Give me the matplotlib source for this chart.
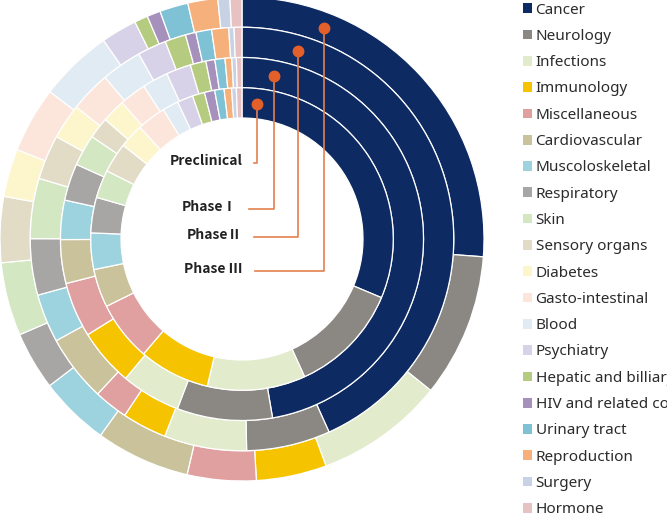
import numpy as np
import matplotlib
matplotlib.use('Agg')
import matplotlib.pyplot as plt
from matplotlib.patches import Patch

# Kategorien (im Uhrzeigersinn ab 12 Uhr)
categories = ['Cancer', 'Neurology', 'Infections', 'Immunology', 'Miscellaneous',
              'Cardiovascular', 'Muscoloskeletal', 'Respiratory', 'Skin',
              'Sensory organs', 'Diabetes', 'Gasto-intestinal', 'Blood',
              'Psychiatry', 'Hepatic and billiary', 'HIV and related conditions',
              'Urinary tract', 'Reproduction', 'Surgery', 'Hormone']

# Anteile in % je Phase
preclinical = [31.4, 11.9, 10.5, 7.6, 6.4, 4.1, 3.9, 3.8, 3.0, 3.2,
               2.6, 3.1, 1.7, 1.7, 1.3, 1.1, 1.0, 0.8, 0.5, 0.6]
phase1 = [47.4, 8.5, 5.3, 5.1, 4.9, 3.9, 3.5, 3.3, 2.8, 1.9,
          2.1, 2.4, 2.3, 2.2, 1.4, 0.8, 0.9, 0.6, 0.4, 0.5]
phase2 = [43.3, 6.4, 6.3, 3.4, 2.6, 5.1, 3.7, 4.3, 4.6, 3.4,
          2.7, 3.1, 3.1, 2.2, 1.6, 0.8, 1.2, 1.3, 0.4, 0.6]
phase3 = [26.2, 9.6, 8.6, 4.7, 4.6, 6.3, 4.7, 3.9, 4.9, 4.4,
          3.2, 4.4, 4.9, 2.4, 0.9, 0.9, 1.9, 2.0, 0.8, 0.8]

phase_labels = ['Preclinical', 'PhaseⅠ', 'PhaseⅡ', 'Phase Ⅲ']

colors = ['#0d2a62', '#8b8884', '#e2ebcc', '#f6c300', '#e0a0a0',
          '#c9c29b', '#9dd2df', '#a8a6a5', '#d3e7c3', '#e2dcc7',
          '#fdf6cd', '#fce6db', '#e1ebf3', '#d7d2e7', '#b5cb7f',
          '#a591bc', '#7fc1d5', '#f5b07c', '#c7d3e5', '#e8c2c2']

fig = plt.figure(figsize=(6.67, 5.29), dpi=100)
ax = fig.add_axes([0, 48 / 529, 484 / 667, 484 / 529])

# Ringe: aussen Phase III, innen Preclinical
width = 0.125
rings = [(phase3, 1.0), (phase2, 0.875), (phase1, 0.75), (preclinical, 0.625)]
for vals, r in rings:
    ax.pie(vals, radius=r, colors=colors, startangle=90, counterclock=False,
           wedgeprops=dict(width=width, edgecolor='white', linewidth=0.9))
ax.set_xlim(-1, 1)
ax.set_ylim(-1, 1)

# Beschriftung der Ringe mit Punkt + Linie
ring_mid = [0.5625, 0.6875, 0.8125, 0.9375]
dot_angle = [6.4, 11.0, 16.6, 21.3]
label_y = [0.314, 0.124, 0.008, -0.132]
line_end = [0.05, 0.029, 0.05, 0.054]
text_x = [0.004, -0.021, 0.0, 0.004]
for i in range(4):
    a = np.radians(dot_angle[i])
    px = ring_mid[i] * np.sin(a)
    py = ring_mid[i] * np.cos(a)
    ax.plot([px, px, line_end[i]], [py, label_y[i], label_y[i]],
            color='#e5804f', lw=1.2, zorder=5)
    ax.plot(px, py, 'o', color='#e4602a', markersize=7.5, zorder=6)
    ax.text(text_x[i], label_y[i] + 0.01, phase_labels[i], ha='right', va='center',
            fontsize=10, fontweight='semibold', color='#222222',
            family=['Noto Sans CJK SC', 'DejaVu Sans'])

# Legende
handles = [Patch(facecolor=c, edgecolor='none') for c in colors]
leg = fig.legend(handles, categories, loc='upper left',
                 bbox_to_anchor=(521 / 667, 1 - 1 / 529), frameon=False,
                 borderaxespad=0, borderpad=0.1, handlelength=0.6,
                 handleheight=0.6, handletextpad=0.25, labelspacing=0.74,
                 prop={'family': 'Noto Sans', 'size': 11})
for t in leg.get_texts():
    t.set_color('#2b2b2b')

fig.savefig('out.png', dpi=100)
